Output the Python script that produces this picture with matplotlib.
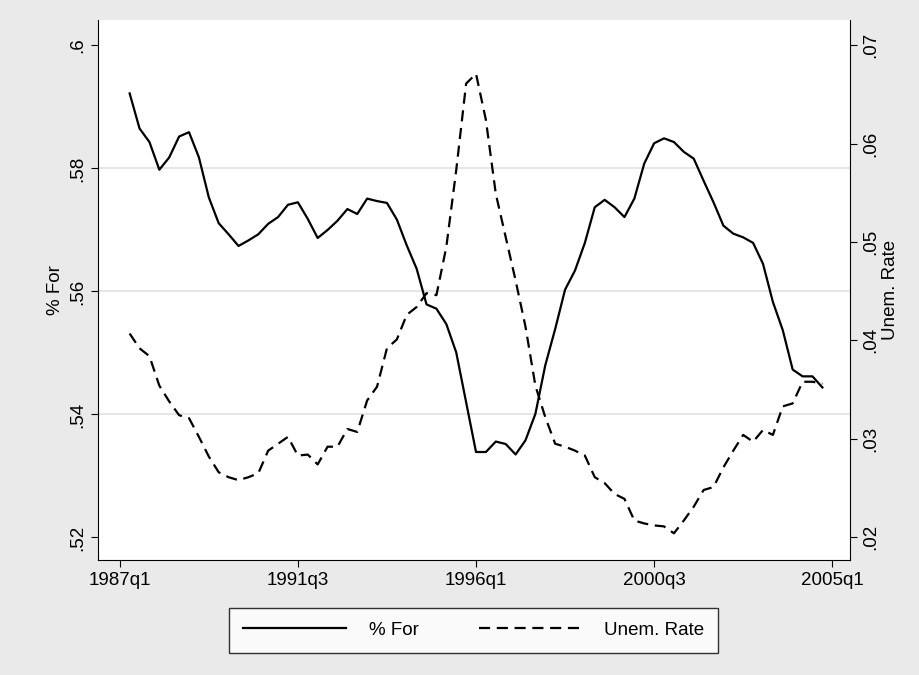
import matplotlib
matplotlib.use("Agg")
import matplotlib.pyplot as plt

plt.rcParams["font.family"] = ["Liberation Sans", "DejaVu Sans"]

# quarterly, 1987q2 .. 2004q4
pct_for = [
    .5922, .5865, .5843, .5798, .5818, .5852, .5859, .5818, .5753, .5711,
    .5693, .5674, .5683, .5693, .5710, .5721, .5741, .5745, .5718, .5687,
    .5700, .5715, .5734, .5726, .5751, .5747, .5744, .5717, .5675, .5637,
    .5579, .5572, .5547, .5501, .5420, .5339, .5339, .5356, .5352, .5335,
    .5358, .5401, .5480, .5539, .5603, .5634, .5679, .5737, .5749, .5737,
    .5721, .5751, .5808, .5841, .5849, .5843, .5827, .5816, .5780, .5745,
    .5707, .5694, .5688, .5679, .5645, .5583, .5537, .5473, .5462, .5462,
    .5444,
]
unem = [
    .0407, .0392, .0384, .0354, .0338, .0324, .0321, .0302, .0282, .0266,
    .0261, .0258, .0261, .0265, .0288, .0295, .0302, .0283, .0284, .0274,
    .0292, .0292, .0310, .0307, .0339, .0353, .0392, .0401, .0426, .0434,
    .0448, .0446, .0495, .0573, .0661, .0671, .0624, .0549, .0505, .0461,
    .0414, .0354, .0322, .0295, .0292, .0288, .0283, .0261, .0255, .0244,
    .0239, .0217, .0214, .0212, .0211, .0204, .0217, .0231, .0248, .0251,
    .0271, .0288, .0304, .0297, .0309, .0304, .0333, .0336, .0358, .0358,
    .0356,
]
quarters = list(range(1, len(pct_for) + 1))  # 0 = 1987q1
tick_pos = [0, 18, 36, 54, 72]
tick_lab = ["1987q1", "1991q3", "1996q1", "2000q3", "2005q1"]

fig = plt.figure(figsize=(9.2, 6.75), dpi=100, facecolor="#eaeaea")
ax = fig.add_axes([0.1065, 0.170, 0.8175, 0.800])
ax.set_facecolor("white")
ax2 = ax.twinx()

l1, = ax.plot(quarters, pct_for, color="black", lw=1.6, label="% For")
l2, = ax2.plot(quarters, unem, color="black", lw=1.6, ls=(0, (5, 3)), label="Unem. Rate")

ax.set_xlim(-2.2, 73.8)
ax.set_ylim(.5163, .6041)
ax2.set_ylim(.01766, .07254)
ax.set_xticks(tick_pos, tick_lab)
ax.set_yticks([.52, .54, .56, .58, .6], [".52", ".54", ".56", ".58", ".6"], rotation=90, va="center")
ax2.set_yticks([.02, .03, .04, .05, .06, .07], [".02", ".03", ".04", ".05", ".06", ".07"], rotation=90, va="center")
for y in [.54, .56, .58]:
    ax.axhline(y, color="#e6e6e6", lw=1.5, zorder=0)
for a in (ax, ax2):
    a.tick_params(labelsize=13.5, length=5, color="black")
    for s in a.spines.values():
        s.set_visible(False)
ax.spines["left"].set_visible(True)
ax.spines["bottom"].set_visible(True)
ax2.spines["right"].set_visible(True)
ax.set_ylabel("% For", fontsize=13.5)
ax2.set_ylabel("Unem. Rate", fontsize=13.5, labelpad=2)

leg = fig.legend([l1, l2], ["% For", "Unem. Rate"], loc="center", bbox_to_anchor=(0.515, 0.066),
                 ncol=2, fontsize=13.5, frameon=True, fancybox=False, edgecolor="black",
                 handlelength=5.5, columnspacing=3.2, borderpad=0.75, borderaxespad=0,
                 handletextpad=1.2)
leg.get_frame().set_linewidth(1.0)
fig.savefig("out.png", facecolor=fig.get_facecolor())
